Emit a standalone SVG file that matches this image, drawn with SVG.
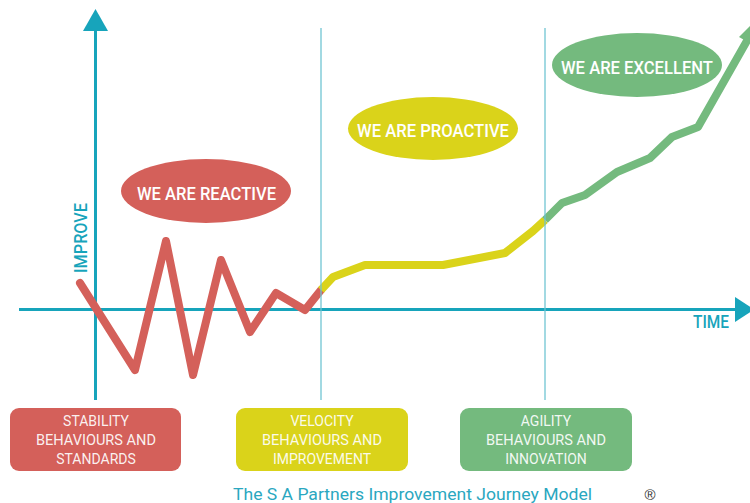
<svg xmlns="http://www.w3.org/2000/svg" width="750" height="503" viewBox="0 0 750 503">
<style>
.axis{stroke:#17A4BB;stroke-width:3;fill:none}
.guide{stroke:#6DC3D1;stroke-width:1.5;fill:none}
.curve{fill:none;stroke-width:8;stroke-linejoin:round;stroke-linecap:round}
.lbl{font-family:Roboto,"Liberation Sans",Arial,sans-serif;font-weight:500;fill:#FFFFFF;text-anchor:middle;font-size:17.5px}
.axlbl{font-family:Roboto,"Liberation Sans",Arial,sans-serif;font-weight:500;fill:#17A4BB;font-size:17.5px}
.box{font-family:Roboto,"Liberation Sans",Arial,sans-serif;fill:#FFFFFF;fill-opacity:0.92;text-anchor:middle;font-size:14px}
</style>
<rect width="750" height="503" fill="#FFFFFF"/>
<g id="connectors">
  <line class="axis" x1="95.5" y1="30" x2="95.5" y2="400"/>
  <polygon points="83,31 95.5,9 108,31" fill="#17A4BB"/>
  <line class="axis" x1="19" y1="309.5" x2="736" y2="309.5"/>
  <polygon points="735,297 735,322 754,309.5" fill="#17A4BB"/>
  <polyline class="curve" stroke="#D4605A" points="80,283 135,370 166,241 193,375 221,260 250,332 276,293 305,310 321,290"/>
  <polyline class="curve" stroke="#DAD31A" style="stroke-linecap:butt" points="321,290 333,277 365,265 443,265 505,253 533,231 545,220"/>
  <polyline class="curve" stroke="#74BA7E" style="stroke-linecap:butt" points="545,220 562,203 585,195 617,172 650,158 672,137 698,127 752,32"/>
  <polygon points="739,37 762,14 758,48" fill="#74BA7E"/>
  <line class="guide" x1="321" y1="28" x2="321" y2="400" stroke-opacity="0.85"/>
  <line class="guide" x1="545" y1="28" x2="545" y2="400" stroke-opacity="0.85"/>
</g>
<text class="axlbl" transform="translate(87,238) rotate(-90)" text-anchor="middle" textLength="70" lengthAdjust="spacingAndGlyphs">IMPROVE</text>
<text class="axlbl" x="711" y="328" text-anchor="middle" textLength="36" lengthAdjust="spacingAndGlyphs">TIME</text>
<g id="reactive">
  <ellipse cx="206" cy="191" rx="85" ry="32" fill="#D4605A"/>
  <text class="lbl" x="206.5" y="199.5" textLength="139" lengthAdjust="spacingAndGlyphs">WE ARE REACTIVE</text>
</g>
<g id="proactive">
  <ellipse cx="433" cy="128.5" rx="85" ry="31.5" fill="#DAD31A"/>
  <text class="lbl" x="433" y="137" textLength="152" lengthAdjust="spacingAndGlyphs">WE ARE PROACTIVE</text>
</g>
<g id="excellent">
  <ellipse cx="637" cy="65" rx="85" ry="32" fill="#74BA7E"/>
  <text class="lbl" x="637" y="73.5" textLength="152" lengthAdjust="spacingAndGlyphs">WE ARE EXCELLENT</text>
</g>
<g id="stability">
  <rect x="10" y="408" width="171" height="63" rx="9" fill="#D4605A"/>
  <text class="box" x="96" y="426">STABILITY</text>
  <text class="box" x="96" y="445" textLength="120" lengthAdjust="spacingAndGlyphs">BEHAVIOURS AND</text>
  <text class="box" x="96" y="464">STANDARDS</text>
</g>
<g id="velocity">
  <rect x="236" y="408" width="172" height="63" rx="9" fill="#DAD31A"/>
  <text class="box" x="322" y="426">VELOCITY</text>
  <text class="box" x="322" y="445" textLength="120" lengthAdjust="spacingAndGlyphs">BEHAVIOURS AND</text>
  <text class="box" x="322" y="464">IMPROVEMENT</text>
</g>
<g id="agility">
  <rect x="460" y="408" width="172" height="63" rx="9" fill="#74BA7E"/>
  <text class="box" x="546" y="426">AGILITY</text>
  <text class="box" x="546" y="445" textLength="120" lengthAdjust="spacingAndGlyphs">BEHAVIOURS AND</text>
  <text class="box" x="546" y="464">INNOVATION</text>
</g>
<text x="233" y="500" font-family="Roboto,'Liberation Sans',Arial,sans-serif" font-size="17" fill="#2AA7C0" textLength="359" lengthAdjust="spacingAndGlyphs">The S A Partners Improvement Journey Model</text>
<text x="650" y="500" font-family="'Liberation Sans',Arial,sans-serif" font-size="15" fill="#333333" text-anchor="middle">®</text>
</svg>
